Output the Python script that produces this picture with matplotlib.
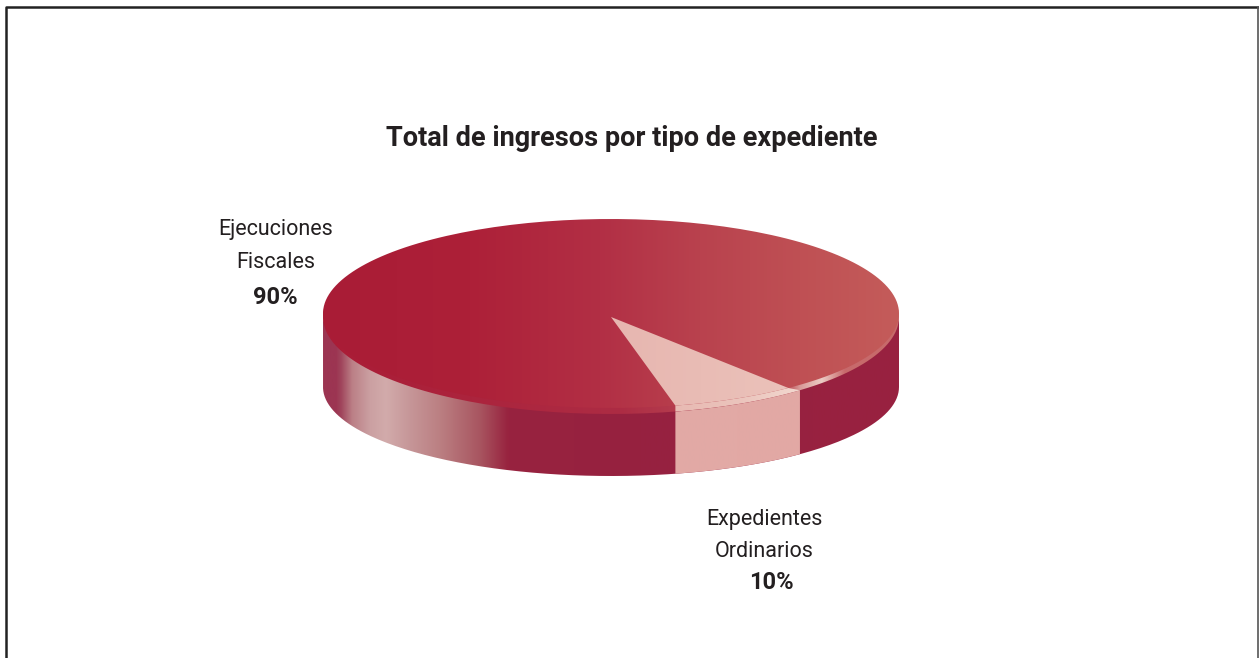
import numpy as np
import matplotlib
matplotlib.use("Agg")
import matplotlib.pyplot as plt
from matplotlib.colors import to_rgb
from matplotlib.patches import PathPatch
from matplotlib.path import Path

categories = ["Ejecuciones\nFiscales", "Expedientes\nOrdinarios"]
shares = [90, 10]
share_labels = ["90%", "10%"]
title = "Total de ingresos por tipo de expediente"

plt.rcParams["font.family"] = ["Roboto", "Liberation Sans", "DejaVu Sans"]

W, H = 1259, 658
fig = plt.figure(figsize=(W / 100, H / 100), dpi=100)
ax = fig.add_axes([0, 0, 1, 1])

# disc geometry, pixels
cx, cy, rx, ry = 611, 317, 288, 97
base_cy, base_ry = 387, 89
inner_cy, inner_ry = 313.5, 94.5
start_deg = 49
foreshorten = 0.78   # the slice looks narrower than its share in the tilted view


def arc(t0, t1, yc, ryy, n=200):
    t = np.radians(np.linspace(t0, t1, n))
    return np.column_stack([cx + rx * np.cos(t), yc + ryy * np.sin(t)])


def fill_gradient(verts, stops, x0=cx - rx - 2, x1=cx + rx + 2):
    # horizontal colour ramp clipped to a polygon
    xs = np.linspace(x0, x1, 1200)
    sx = [s[0] for s in stops]
    rgb = np.array([to_rgb(s[1]) for s in stops])
    ramp = np.column_stack([np.interp(xs, sx, rgb[:, i]) for i in range(3)])
    im = ax.imshow(ramp[None, :, :], aspect="auto", extent=[x0, x1, H, 0], zorder=2)
    patch = PathPatch(Path(np.vstack([verts, verts[:1]])), fc="none", ec="none",
                      transform=ax.transData)
    ax.add_patch(patch)
    im.set_clip_path(patch)


sweep = shares[1] / sum(shares) * 360 * foreshorten
t_a, t_b = start_deg, start_deg + sweep

# side wall
wall = np.vstack([arc(0, 180, cy - 3, ry), arc(180, 0, base_cy, base_ry)])
fill_gradient(wall, [(323, "#9c3552"), (336, "#9c3552"), (341, "#a0455c"),
                     (352, "#bb7f86"), (370, "#cba0a2"), (386, "#d2abab"),
                     (410, "#c69698"), (440, "#bb7f82"), (480, "#a85560"),
                     (508, "#98233f"), (640, "#962140"), (900, "#992240")])
slice_wall = np.vstack([arc(t_a, t_b, cy, ry), arc(t_b, t_a, base_cy, base_ry)])
fill_gradient(slice_wall, [(676, "#e2aaa6"), (799, "#e2a8a4")])

# rim lip round the top of the disc
outer = arc(0, 360, cy, ry)
fill_gradient(outer, [(323, "#aa1c36"), (620, "#ad2c44"), (790, "#c25a60"),
                      (800, "#d89a98"), (822, "#eccbc4"), (845, "#c86a6c"),
                      (900, "#c76a6a")])
inner = arc(0, 360, inner_cy, inner_ry)
fill_gradient(inner, [(323, "#a91c36"), (470, "#ad2038"), (600, "#b22f45"),
                      (700, "#b9424e"), (800, "#bf5054"), (899, "#c45c5a")])

# light slice: lip band, then the face
slice_lip = np.vstack([arc(t_a, t_b, cy, ry), arc(t_b, t_a + 3, inner_cy, inner_ry)])
fill_gradient(slice_lip, [(676, "#e8bab3"), (740, "#ebc4bc"), (799, "#f2d8cf")])
slice_face = np.vstack([[[cx, cy]], arc(t_a + 3, t_b, inner_cy, inner_ry)])
fill_gradient(slice_face, [(612, "#e7b6b0"), (790, "#ebc2ba")])

# labels
ax.text(632, 139, title, ha="center", va="center", fontsize=19.5,
        fontweight="bold", color="#231f20")
ax.text(275.5, 246, categories[0], ha="center", va="center", fontsize=15.5,
        linespacing=1.7, color="#231f20")
ax.text(275, 297, share_labels[0], ha="center", va="center", fontsize=17,
        fontweight="bold", color="#231f20")
ax.text(764, 535.5, categories[1], ha="center", va="center", fontsize=15.5,
        linespacing=1.65, color="#231f20")
ax.text(771, 582.5, share_labels[1], ha="center", va="center", fontsize=17,
        fontweight="bold", color="#231f20")

# frame: no bottom edge in the scan
ax.plot([6, 6, 1258], [H, 7, 7], color="#222222", lw=1.8, zorder=3)
ax.plot([1258, 1258], [7, H], color="#555555", lw=1.2, zorder=3)

ax.set_xlim(0, W)
ax.set_ylim(H, 0)
ax.axis("off")

fig.savefig("out.png", dpi=100, facecolor="white")
plt.close(fig)
